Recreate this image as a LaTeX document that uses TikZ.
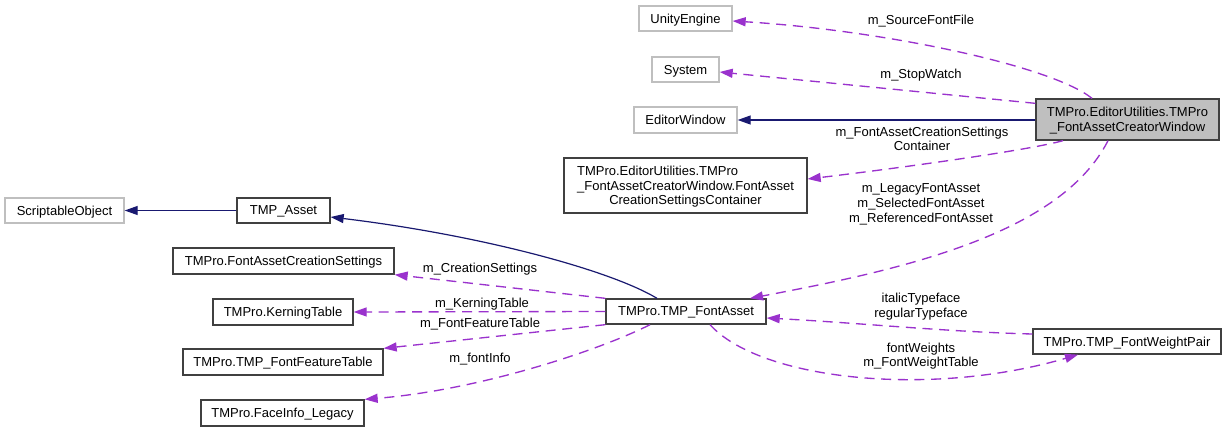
\documentclass[tikz,border=0pt]{standalone}
\usepackage{fontspec}
\setmainfont{Liberation Sans}
\usetikzlibrary{arrows.meta,calc}

\definecolor{refcol}{RGB}{154,50,205}
\definecolor{inhcol}{RGB}{25,25,112}
\definecolor{extgray}{RGB}{191,191,191}
\definecolor{boxline}{RGB}{64,64,64}

\begin{document}
\begin{tikzpicture}[x=0.75pt,y=-0.75pt,
  font=\fontsize{9.75}{10.9}\selectfont,
  every node/.style={text depth=0pt},
  cls/.style={draw=boxline,line width=1pt,fill=white,inner sep=0pt,
    minimum height=18.75pt,align=center},
  ext/.style={cls,draw=extgray},
  current/.style={cls,fill=extgray},
  tip/.style={-{Triangle[length=9.75pt,width=6.75pt]}},
  member/.style={tip,draw=refcol,line width=1pt,dash pattern=on 7.5pt off 5pt},
  inherit/.style={tip,draw=inhcol,line width=0.9pt},
  lbl/.style={inner sep=0pt,align=center}]
\useasboundingbox[fill=white] (0,0) rectangle (1227,432);

% classes
\node[ext,minimum width=69.75pt] (unity) at (685.5,18.5) {UnityEngine};
\node[ext,minimum width=50.25pt] (system) at (685.5,69.5) {System};
\node[ext,minimum width=77.25pt,minimum height=19.5pt] (editorwin) at (685.5,120) {EditorWindow};
\node[current,minimum width=137.25pt,minimum height=30.75pt] (creator) at (1127.5,119.5)
  {TMPro.EditorUtilities.TMPro\\\_FontAssetCreatorWindow};
\node[cls,minimum width=182.25pt,minimum height=41.25pt] (container) at (685.5,185.5)
  {\rlap{TMPro.EditorUtilities.TMPro}\phantom{\_FontAssetCreatorWindow.FontAsset}\\
   \_FontAssetCreatorWindow.FontAsset\\CreationSettingsContainer};
\node[ext,minimum width=89.25pt] (scriptable) at (64.5,210.5) {ScriptableObject};
\node[cls,minimum width=69.75pt] (tmpasset) at (283.5,210.5) {TMP\_Asset};
\node[cls,minimum width=165.75pt,minimum height=19.5pt] (creationset) at (283.5,261) {TMPro.FontAssetCreationSettings};
\node[cls,minimum width=105pt,minimum height=19.5pt] (kerning) at (283,312) {TMPro.KerningTable};
\node[cls,minimum width=150pt,minimum height=19.5pt] (feature) at (283,362) {TMPro.TMP\_FontFeatureTable};
\node[cls,minimum width=122.25pt,minimum height=19.5pt] (faceinfo) at (282.5,413) {TMPro.FaceInfo\_Legacy};
\node[cls,minimum width=120pt] (fontasset) at (686,311.5) {TMPro.TMP\_FontAsset};
\node[cls,minimum width=141pt] (weightpair) at (1127,341.5) {TMPro.TMP\_FontWeightPair};

% members of the creator window
\draw[member] ($(creator.north)+(-35.5,0)$) .. controls (1050,65) and (880,30) .. ($(unity.east)+(0,2.5)$);
\node[lbl] (lsrc) at (921,20) {m\_SourceFontFile};
\draw[member] ($(creator.north west)+(0,5)$) -- ($(system.east)+(0,2.5)$);
\node[lbl] (lstop) at (921,74) {m\_StopWatch};
\draw[inherit] (creator.west |- editorwin.east) -- (editorwin.east);
\draw[member] ($(creator.south)+(-64.5,0)$) .. controls (1030,150) and (900,168) .. ($(container.east)+(0,-6.5)$);
\node[lbl] (lcont) at (922,139) {m\_FontAssetCreationSettings\\Container};
\draw[member] ($(creator.south)+(-19.5,0)$) .. controls (1060,235) and (900,270) .. ($(fontasset.north)+(64,0)$);
\node[lbl] (llegacy) at (921,203) {m\_LegacyFontAsset\\m\_SelectedFontAsset\\m\_ReferencedFontAsset};

% font asset relations
\draw[member] ($(weightpair.west)+(0,-7.5)$) .. controls (950,332) and (860,323) .. ($(fontasset.east)+(0,6.5)$);
\node[lbl] (ltype) at (921,305.5) {italicTypeface\\regularTypeface};
\draw[member] ($(fontasset.south)+(24,0)$) .. controls (760,380) and (930,398) .. ($(weightpair.south)+(-49,0)$);
\node[lbl] (lweights) at (921,355) {fontWeights\\m\_FontWeightTable};

\draw[inherit] ($(fontasset.north)+(-29,0)$) .. controls (610,270) and (480,235) .. ($(tmpasset.east)+(0,6.5)$);
\draw[inherit] (tmpasset.west) -- (scriptable.east);

\draw[member] (fontasset.north west) -- (creationset.south east);
\node[lbl] (lcreation) at (480,268) {m\_CreationSettings};
\draw[member] (fontasset.west) -- (kerning.east);
\node[lbl] (lkerning) at (482,303) {m\_KerningTable};
\draw[member] (fontasset.south west) -- (feature.north east);
\node[lbl] (lfeature) at (480,323) {m\_FontFeatureTable};
\draw[member] ($(fontasset.south)+(-36,0)$) .. controls (600,350) and (480,390) .. (faceinfo.north east);
\node[lbl] (lfontinfo) at (480,358) {m\_fontInfo};
\end{tikzpicture}
\end{document}
